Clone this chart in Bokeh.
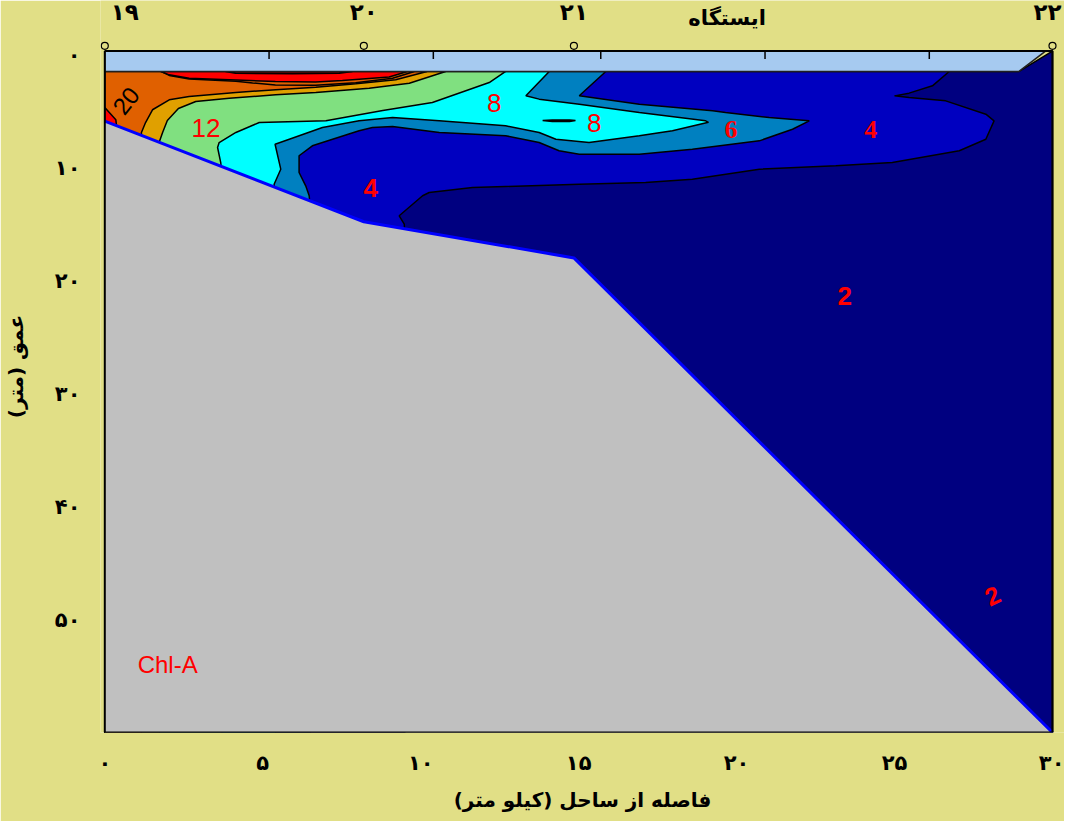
from bokeh.plotting import figure
from bokeh.models import Range1d, FixedTicker, ColumnDataSource
from bokeh.embed import file_html
from bokeh.resources import INLINE
from bokeh.core.properties import value

BG = "#e1df86"

# ---------------- data (km from coast, depth in m) ----------------
station_names = ["۱۹", "۲۰", "۲۱", "۲۲"]
station_km = [0.0, 8.2, 14.85, 30.0]
station_depth = [5.9, 14.8, 18.0, 60.0]
station_title = "ایستگاه"

surface = 1.5
band_top = -0.3
bottom = 60.0
band_edge_km = [28.94, 29.78]

x_ticks = [0, 5, 10, 15, 20, 25, 30]
x_tick_labels = ["۰", "۵", "۱۰", "۱۵", "۲۰", "۲۵", "۳۰"]
y_ticks = [0, 10, 20, 30, 40, 50]
y_tick_labels = ["۰", "۱۰", "۲۰", "۳۰", "۴۰", "۵۰"]
band_tick_km = [5.2, 10.4, 15.7, 20.9, 26.1]

# contour lines (from the surface down to / below the seabed)
blue_x = [26.73, 26.20, 25.46, 25.0, 25.46, 26.62, 27.89, 28.15, 27.89, 27.05, 24.93, 23.14,
          20.72, 18.60, 17.12, 15.02, 12.69, 11.64, 10.27, 10.06, 9.32, 9.48, 9.5]
blue_y = [1.5, 2.77, 3.42, 3.66, 3.80, 4.10, 5.28, 5.87, 7.50, 8.52, 9.56, 9.85,
          10.15, 11.04, 11.33, 11.48, 11.68, 11.77, 12.21, 12.50, 14.27, 15.02, 16.0]

steel_x = [15.86, 15.02, 16.92, 19.24, 19.65, 21.03, 22.30, 21.77, 20.72, 18.60, 16.92, 15.02,
           14.38, 13.75, 12.69, 10.59, 9.11, 8.47, 8.05, 7.21, 6.57, 6.15, 6.15, 6.36, 6.47, 6.5]
steel_y = [1.5, 3.65, 4.40, 4.98, 5.13, 5.58, 5.87, 6.61, 7.64, 8.38, 8.82, 8.82,
           8.52, 7.79, 7.19, 6.90, 6.37, 6.46, 6.75, 7.50, 8.08, 8.96, 10.44, 11.62, 12.50, 13.5]

cyan_x = [14.07, 13.33, 13.75, 15.02, 16.92, 19.02, 19.11, 17.97, 16.92, 15.33, 14.28, 13.75,
          12.69, 10.59, 9.11, 8.05, 6.89, 5.84, 5.39, 5.57, 5.36, 5.4]
cyan_y = [1.5, 3.65, 3.95, 4.40, 5.13, 5.87, 6.0, 6.75, 7.19, 7.79, 7.50, 6.90,
          6.31, 5.87, 5.58, 5.87, 6.46, 7.50, 7.94, 10.15, 11.48, 12.5]

green_x = [12.69, 12.17, 10.37, 8.8, 7.00, 4.89, 4.15, 3.62, 3.57, 3.67, 3.7]
green_y = [1.5, 2.48, 4.25, 4.95, 5.87, 6.02, 6.90, 7.79, 8.23, 9.56, 10.5]

gold_x = [10.79, 9.64, 8.37, 6.68, 5.41, 3.94, 2.88, 2.33, 1.98, 1.83, 1.73, 1.73]
gold_y = [1.5, 2.54, 2.98, 3.36, 3.57, 3.87, 4.16, 4.78, 5.84, 6.90, 7.7, 8.5]

orange_x = [10.2, 9.21, 7.95, 6.68, 5.41, 4.15, 2.67, 2.04, 1.51, 1.29, 1.16, 1.16]
orange_y = [1.5, 2.24, 2.59, 2.89, 3.12, 3.36, 3.72, 4.01, 4.89, 6.02, 6.90, 7.8]

orange2_x = [1.80, 2.04, 2.67, 4.15, 4.68, 5.40, 6.67, 7.94, 9.11, 9.8]
orange2_y = [1.5, 1.85, 2.16, 2.36, 2.52, 2.70, 2.72, 2.50, 2.10, 1.5]

red_x = [1.77, 2.04, 2.67, 4.15, 5.40, 6.67, 7.52, 9.00, 9.58]
red_y = [1.5, 1.80, 2.10, 2.26, 2.39, 2.43, 2.30, 1.99, 1.5]

darkred_x = [3.82, 4.14, 5.94, 7.42, 7.84]
darkred_y = [1.5, 1.66, 1.70, 1.66, 1.5]

red_tri_x = [0.0, 0.35, 0.4, 0.0]
red_tri_y = [4.69, 5.78, 7.0, 7.0]

island_x = [13.86, 14.17, 14.71, 14.90, 14.71, 14.17]
island_y = [5.84, 5.80, 5.80, 5.84, 5.92, 5.92]

label_text = ["12", "8", "8", "6", "4", "4", "2"]
label_km = [3.20, 12.33, 15.49, 19.82, 24.25, 8.42, 23.42]
label_depth = [6.46, 4.31, 6.08, 6.66, 6.61, 11.77, 21.35]
label_font = ["Liberation Sans", "Liberation Sans", "Liberation Sans", "Liberation Serif",
              "Liberation Serif", "Liberation Sans", "Liberation Sans"]
label_style = ["normal", "normal", "normal", "bold", "bold", "bold", "bold"]

# ---------------- figure ----------------
p = figure(frame_width=964, frame_height=732,
           min_border_left=100, min_border_right=0, min_border_top=0, min_border_bottom=89,
           x_range=Range1d(-0.136, 30.38), y_range=Range1d(60.0, -4.78),
           output_backend="svg", toolbar_location=None,
           background_fill_color=BG, border_fill_color=BG)
p.outline_line_color = None
p.grid.visible = False


def region(xs, ys):
    px, py = list(xs), list(ys)
    if py[-1] > surface + 0.01:
        px += [px[-1], 0.0, 0.0]
        py += [bottom, bottom, surface]
    return px, py


# whole water body
p.patch([0.0, band_edge_km[0], 30.0, 30.0, 0.0], [surface, surface, band_top, bottom, bottom],
        fill_color="#000080", line_color="black", line_width=1.5)

layers = [(blue_x, blue_y, "#0000c0"), (steel_x, steel_y, "#0080c0"),
          (cyan_x, cyan_y, "#00ffff"), (green_x, green_y, "#80e080"),
          (gold_x, gold_y, "#e0a000"), (orange_x, orange_y, "#e06000"),
          (orange2_x, orange2_y, "#e06000"), (red_x, red_y, "#ff0000"),
          (darkred_x, darkred_y, "#800000")]
for xs, ys, col in layers:
    rx, ry = region(xs, ys)
    p.patch(rx, ry, fill_color=col, line_color="black", line_width=1.5)

p.patch(island_x, island_y, fill_color="black", line_color="black", line_width=1.5)
p.patch(red_tri_x, red_tri_y, fill_color="#ff0000", line_color="black", line_width=1.5)

# seabed
p.patch(station_km + [30.0, 0.0], station_depth + [bottom, bottom],
        fill_color="#c0c0c0", line_color=None)
p.line(station_km, station_depth, line_color="#0000ff", line_width=3)

# surface band
p.patch([0.0, band_edge_km[1], band_edge_km[0], 0.0], [band_top, band_top, surface, surface],
        fill_color="#a6caf0", line_color="#202020", line_width=1.5)
p.segment(x0=band_tick_km, y0=[band_top] * len(band_tick_km),
          x1=band_tick_km, y1=[band_top + 0.7] * len(band_tick_km),
          line_color="black", line_width=1.5)

# frame border
p.line([0.0, 30.0, 30.0, 0.0, 0.0], [band_top, band_top, bottom, bottom, band_top],
       line_color="black", line_width=2)

# station markers and names
p.scatter(station_km, [-0.77] * len(station_km), marker="circle", size=7,
          fill_color=BG, line_color="black", line_width=1.2)
st_src = ColumnDataSource(dict(x=station_km, y=[-3.72] * len(station_km), t=station_names,
                               a=["left", "center", "center", "right"], o=[6, 0, 0, 9]))
p.text(x="x", y="y", text="t", source=st_src, text_align="a", x_offset="o",
       text_baseline="middle", text_font=value("DejaVu Sans"), text_font_style="bold",
       text_font_size="23px", text_color="black")
p.text(x=[19.7], y=[-3.2], text=[station_title], text_align="center", text_baseline="middle",
       text_font=value("DejaVu Sans"), text_font_style="bold", text_font_size="21px",
       text_color="black")

# region labels
src = ColumnDataSource(dict(x=label_km, y=label_depth, t=label_text, f=label_font, s=label_style))
p.text(x="x", y="y", text="t", source=src, text_font="f", text_font_style="s",
       text_font_size="26px", text_color="#ff0000", text_align="center", text_baseline="middle")
p.text(x=[0.67], y=[4.10], text=["20"], angle=52, angle_units="deg",
       text_font=value("Liberation Sans"), text_font_size="24px", text_color="black",
       text_align="center", text_baseline="middle")
p.text(x=[28.10], y=[47.9], text=["2"], angle=25, angle_units="deg",
       text_font=value("Liberation Sans"), text_font_size="25px", text_font_style="bold",
       text_color="#ff0000", text_align="center", text_baseline="middle")
p.text(x=[1.04], y=[54.0], text=["Chl-A"], text_font=value("Liberation Sans"),
       text_font_size="24px", text_color="#ff0000", text_align="left", text_baseline="middle")

# ---------------- axes ----------------
FONT = "DejaVu Sans"

xa = p.xaxis[0]
xa.ticker = FixedTicker(ticks=x_ticks)
xa.major_label_overrides = {t: l for t, l in zip(x_ticks, x_tick_labels)}
xa.axis_label = "فاصله از ساحل (کیلو متر)"
xa.major_label_standoff = 12
xa.axis_label_standoff = 10

ya = p.yaxis[0]
ya.ticker = FixedTicker(ticks=y_ticks)
ya.major_label_overrides = {t: l for t, l in zip(y_ticks, y_tick_labels)}
ya.axis_label = "عمق (متر)"
ya.major_label_standoff = 14
ya.axis_label_standoff = 24

for ax in (xa, ya):
    ax.axis_line_color = None
    ax.major_tick_line_color = None
    ax.minor_tick_line_color = None
    ax.major_label_text_font = FONT
    ax.major_label_text_font_style = "bold"
    ax.major_label_text_font_size = "21px"
    ax.major_label_text_color = "black"
    ax.axis_label_text_font = FONT
    ax.axis_label_text_font_style = "bold"
    ax.axis_label_text_font_size = "20px"
    ax.axis_label_text_color = "black"

open("out.html", "w").write(file_html(p, INLINE))
